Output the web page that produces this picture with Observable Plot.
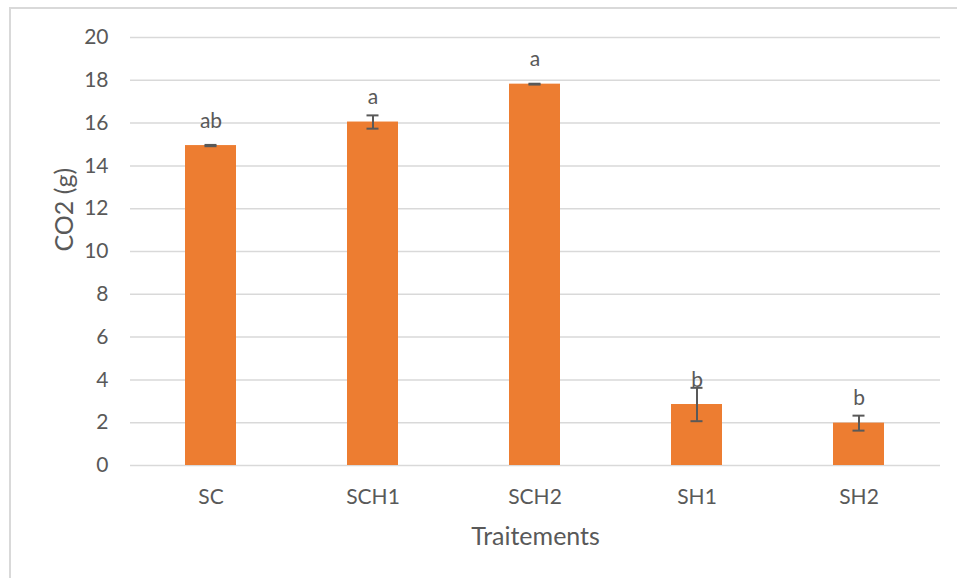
<!DOCTYPE html>
<html><head><meta charset="utf-8">
<script src="https://cdn.jsdelivr.net/npm/d3@7"></script>
<script src="https://cdn.jsdelivr.net/npm/@observablehq/plot@0.6"></script>
<style>
body{margin:0;background:#fff;}
#wrap{position:relative;width:957px;height:578px;overflow:hidden;}
#wrap svg{position:absolute;left:0;top:0;}
#frame{position:absolute;left:9px;top:7px;width:1000px;height:1000px;border-top:2px solid #d9d9d9;border-left:2px solid #d9d9d9;pointer-events:none;}
</style></head><body>
<div id="wrap"></div>
<script>
const categories = ["SC", "SCH1", "SCH2", "SH1", "SH2"];
const values = [14.95, 16.05, 17.82, 2.85, 1.98];
const errors = [0.03, 0.31, 0.02, 0.78, 0.35];
const letters = ["ab", "a", "a", "b", "b"];
const yTicks = [0, 2, 4, 6, 8, 10, 12, 14, 16, 18, 20];
const xTitle = "Traitements";
const yTitle = "CO2 (g)";

const data = categories.map((c, i) => ({cat: c, value: values[i], err: errors[i], letter: letters[i]}));
const ink = "#595959";

const chart = Plot.plot({
  width: 957, height: 578,
  marginLeft: 130, marginRight: 17, marginTop: 37, marginBottom: 113,
  style: {fontFamily: "Lato, 'Open Sans', sans-serif", fontSize: "21px", color: ink, background: "transparent", overflow: "visible"},
  x: {domain: categories, paddingInner: 0.685, paddingOuter: 0.3425, label: null},
  y: {domain: [0, 20], label: null},
  marks: [
    Plot.ruleY(yTicks, {stroke: "#d9d9d9", strokeWidth: 1.5}),
    Plot.barY(data, {x: "cat", y: "value", fill: "#ED7D31"}),
    Plot.ruleX(data, {x: "cat", y1: d => d.value - d.err, y2: d => d.value + d.err, stroke: ink, strokeWidth: 2}),
    Plot.tickY(data, {x: "cat", y: d => d.value + d.err, stroke: ink, strokeWidth: 2, insetLeft: 19.5, insetRight: 19.5}),
    Plot.tickY(data, {x: "cat", y: d => d.value - d.err, stroke: ink, strokeWidth: 2, insetLeft: 19.5, insetRight: 19.5}),
    Plot.text(data, {x: "cat", y: "value", text: "letter", lineAnchor: "bottom", dy: -18, fill: ink, fontSize: 21}),
    Plot.axisX({tickSize: 0, tickPadding: 24, label: null, fill: ink, fontSize: 21}),
    Plot.axisY({ticks: yTicks, tickSize: 0, tickPadding: 22, label: null, tickFormat: d => String(d), fill: ink, fontSize: 21}),
    Plot.text([xTitle], {frameAnchor: "bottom", lineAnchor: "bottom", dy: 79, fill: ink, fontSize: 25}),
    Plot.text([yTitle], {frameAnchor: "left", lineAnchor: "bottom", rotate: -90, dx: -58, fill: ink, fontSize: 25})
  ]
});
const wrap = document.getElementById("wrap");
wrap.appendChild(chart);
const frame = document.createElement("div");
frame.id = "frame";
wrap.appendChild(frame);
</script>
</body></html>
